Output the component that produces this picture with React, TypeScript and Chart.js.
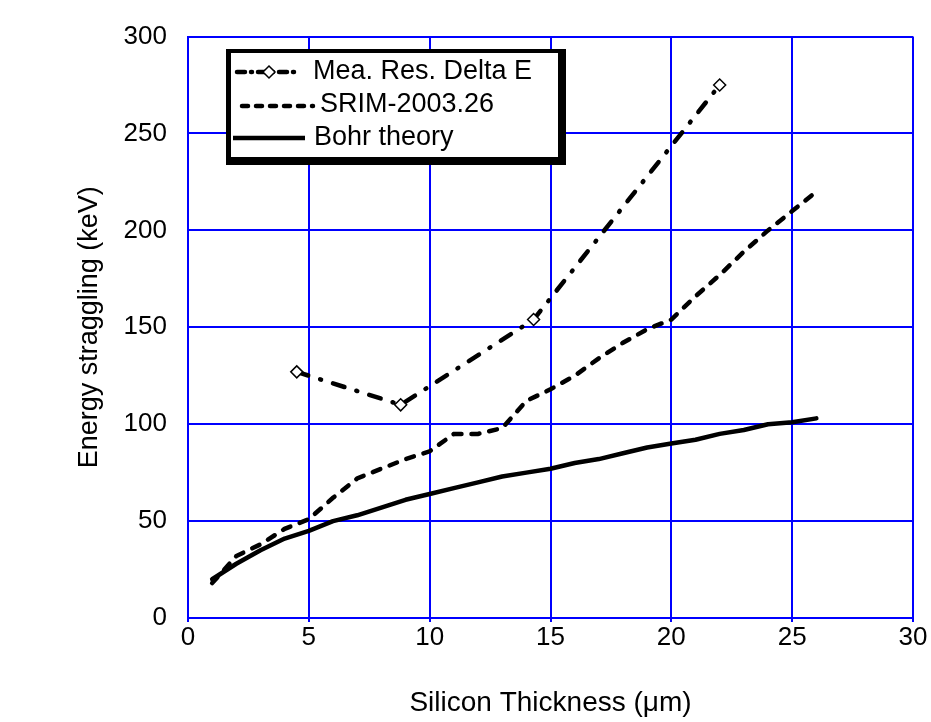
import React, { useEffect, useRef } from "react";
import { Chart, registerables } from "chart.js";

Chart.register(...registerables);

// ---- data ----
const seriesNames = ["Mea. Res. Delta E", "SRIM-2003.26", "Bohr theory"];
const xTitle = "Silicon Thickness (\u03bcm)";
const yTitle = "Energy straggling (keV)";

const meaThickness = [4.5, 8.8, 14.3, 22];
const meaStraggling = [127, 110, 154, 275];

const srimThickness = [1, 2, 3, 4, 5, 6, 7, 8, 9, 10, 11, 12, 13, 14, 15, 16, 17, 18, 19, 20, 21, 22, 23, 24, 25, 26];
const srimStraggling = [18, 32, 38, 46, 51, 62, 72, 77, 82, 86, 95, 95, 98, 112, 118, 125, 134, 142, 149, 154, 166, 177, 189, 200, 210, 220];

const bohrThickness = [1, 2, 3, 4, 5, 6, 7, 8, 9, 10, 11, 12, 13, 14, 15, 16, 17, 18, 19, 20, 21, 22, 23, 24, 25, 26];
const bohrStraggling = [20, 28, 35, 41, 45, 50, 53, 57, 61, 64, 67, 70, 73, 75, 77, 80, 82, 85, 88, 90, 92, 95, 97, 100, 101, 103];

const xTicks = { min: 0, max: 30, step: 5 };
const yTicks = { min: 0, max: 300, step: 50 };

const FONT = "'Liberation Sans', Arial, Helvetica, sans-serif";
const GRID_BLUE = "#0000ff";
const MEA_DASH = [12, 12.5, 1, 12.5];
const SRIM_DASH = [8, 10];

const toPts = (xs: number[], ys: number[]) => xs.map((x, i) => ({ x, y: ys[i] }));

const boxLegend = {
  id: "boxLegend",
  afterDraw(chart: any) {
    const ctx: CanvasRenderingContext2D = chart.ctx;
    ctx.save();
    // frame with shadow
    ctx.fillStyle = "#000";
    ctx.fillRect(226, 49, 340, 116);
    ctx.fillStyle = "#fff";
    ctx.fillRect(231, 53, 327, 104);

    ctx.strokeStyle = "#000";
    ctx.lineWidth = 4.5;
    ctx.lineCap = "round";

    // row 1: dash-dot with diamond
    const r1 = 72;
    ctx.setLineDash([8, 6, 1, 6]);
    ctx.beginPath();
    ctx.moveTo(237, r1);
    ctx.lineTo(296, r1);
    ctx.stroke();
    ctx.setLineDash([]);
    ctx.lineWidth = 1.5;
    ctx.fillStyle = "#fff";
    ctx.beginPath();
    ctx.moveTo(269, r1 - 6);
    ctx.lineTo(275, r1);
    ctx.lineTo(269, r1 + 6);
    ctx.lineTo(263, r1);
    ctx.closePath();
    ctx.fill();
    ctx.stroke();

    // row 2: dashed
    const r2 = 106;
    ctx.lineWidth = 4.5;
    ctx.setLineDash([6, 8]);
    ctx.beginPath();
    ctx.moveTo(242, r2);
    ctx.lineTo(313, r2);
    ctx.stroke();

    // row 3: solid
    const r3 = 138;
    ctx.setLineDash([]);
    ctx.lineCap = "butt";
    ctx.beginPath();
    ctx.moveTo(233, r3);
    ctx.lineTo(305, r3);
    ctx.stroke();

    ctx.fillStyle = "#000";
    ctx.font = `27px ${FONT}`;
    ctx.textBaseline = "middle";
    ctx.textAlign = "left";
    ctx.fillText(seriesNames[0], 313, r1);
    ctx.fillText(seriesNames[1], 320, r2 - 1);
    ctx.fillText(seriesNames[2], 314, r3);
    ctx.restore();
  },
};

export default function App() {
  const ref = useRef<HTMLCanvasElement | null>(null);

  useEffect(() => {
    if (!ref.current) return;
    const chart = new Chart(ref.current, {
      type: "line",
      data: {
        datasets: [
          {
            label: seriesNames[2],
            data: toPts(bohrThickness, bohrStraggling),
            borderColor: "#000",
            borderWidth: 4.5,
            pointRadius: 0,
            tension: 0,
            fill: false,
            borderCapStyle: "round",
            borderJoinStyle: "round",
          },
          {
            label: seriesNames[1],
            data: toPts(srimThickness, srimStraggling),
            borderColor: "#000",
            borderWidth: 4.5,
            borderDash: SRIM_DASH,
            borderCapStyle: "round",
            pointRadius: 0,
            tension: 0,
            fill: false,
          },
          {
            label: seriesNames[0],
            data: toPts(meaThickness, meaStraggling),
            borderColor: "#000",
            borderWidth: 4.5,
            borderDash: MEA_DASH,
            borderCapStyle: "round",
            pointStyle: "rectRot",
            pointRadius: 6,
            pointBorderWidth: 1.5,
            pointBackgroundColor: "#fff",
            pointBorderColor: "#000",
            tension: 0,
            fill: false,
          },
        ],
      },
      options: {
        responsive: false,
        animation: false,
        events: [],
        layout: { padding: { left: 0, right: 18, top: 24, bottom: 0 } },
        plugins: {
          legend: { display: false },
          tooltip: { enabled: false },
        },
        scales: {
          x: {
            type: "linear",
            min: xTicks.min,
            max: xTicks.max,
            afterFit: (s: any) => {
              s.height = 104;
            },
            ticks: {
              stepSize: xTicks.step,
              color: "#000",
              font: { family: FONT, size: 26 },
              padding: 0,
              maxRotation: 0,
            },
            grid: {
              color: GRID_BLUE,
              lineWidth: 2,
              drawTicks: true,
              tickLength: 4,
            },
            border: { color: GRID_BLUE, width: 2 },
            title: {
              display: true,
              text: xTitle,
              color: "#000",
              font: { family: FONT, size: 28, lineHeight: 1 },
              padding: { top: 0, bottom: 5 },
            },
          },
          y: {
            type: "linear",
            min: yTicks.min,
            max: yTicks.max,
            afterFit: (s: any) => {
              s.width = 188;
            },
            ticks: {
              stepSize: yTicks.step,
              color: "#000",
              font: { family: FONT, size: 26 },
              padding: 21,
            },
            grid: {
              color: GRID_BLUE,
              lineWidth: 2,
              drawTicks: false,
            },
            border: { color: GRID_BLUE, width: 2 },
            title: {
              display: true,
              text: yTitle,
              color: "#000",
              font: { family: FONT, size: 27, lineHeight: 1 },
              padding: { top: 76, bottom: 0 },
            },
          },
        },
      },
      plugins: [boxLegend],
    });
    return () => chart.destroy();
  }, []);

  return (
    <div style={{ position: "absolute", left: 0, top: 0, width: 931, height: 722, background: "#fff" }}>
      <canvas ref={ref} width={931} height={722} style={{ display: "block" }} />
    </div>
  );
}
